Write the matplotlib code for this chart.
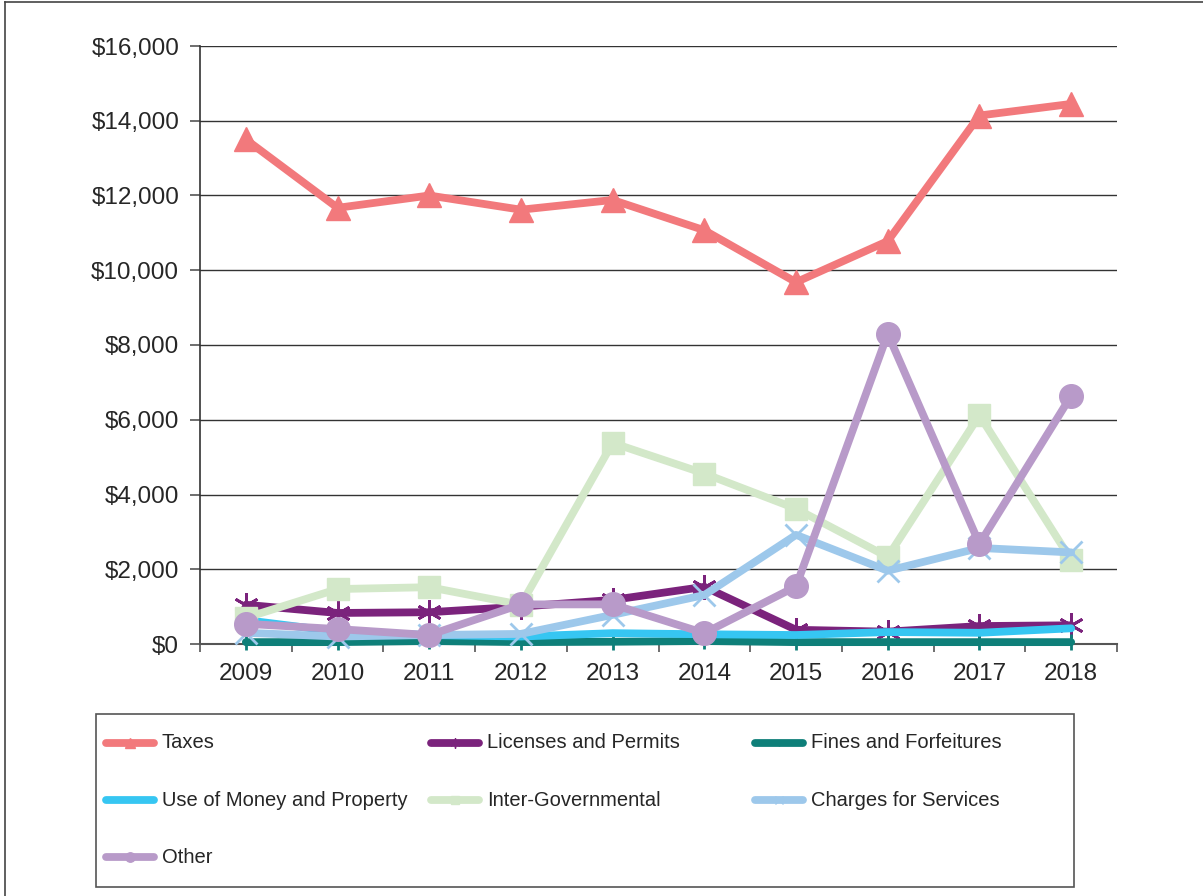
import matplotlib
matplotlib.use("Agg")
import matplotlib.pyplot as plt
from matplotlib.lines import Line2D
from matplotlib.patches import Rectangle
from matplotlib.ticker import FuncFormatter, FixedLocator

plt.rcParams['font.family'] = ['Liberation Sans', 'DejaVu Sans']

years = ['2009', '2010', '2011', '2012', '2013', '2014', '2015', '2016', '2017', '2018']

taxes = [13500, 11670, 12000, 11620, 11880, 11070, 9680, 10780, 14140, 14450]
licenses = [1050, 830, 850, 1000, 1180, 1530, 380, 330, 480, 500]
fines = [50, 50, 80, 50, 60, 80, 50, 50, 50, 50]
use_of_money = [640, 330, 240, 200, 290, 260, 240, 320, 300, 420]
inter_gov = [700, 1470, 1520, 1050, 5380, 4560, 3620, 2330, 6120, 2250]
charges = [300, 200, 240, 270, 780, 1310, 2920, 1960, 2570, 2450]
other = [540, 400, 240, 1060, 1060, 290, 1540, 8300, 2680, 6640]

series = [
    ("Taxes", taxes, "#F2797C", "^", 17, {}),
    ("Licenses and Permits", licenses, "#7B237C", (6, 2, 0), 18, {"markeredgewidth": 2}),
    ("Fines and Forfeitures", fines, "#0E7F79", "|", 12, {"markeredgewidth": 2}),
    ("Use of Money and Property", use_of_money, "#36C6F2", None, 0, {}),
    ("Inter-Governmental", inter_gov, "#D3E8C9", "s", 16, {}),
    ("Charges for Services", charges, "#9DC8EB", "x", 16, {"markeredgewidth": 2}),
    ("Other", other, "#B89AC9", "o", 17, {}),
]

W, H = 1203, 896
fig = plt.figure(figsize=(W / 100, H / 100), dpi=100)
ax = fig.add_axes([200 / W, 1 - 644 / H, 917 / W, 598 / H])

x = list(range(len(years)))
for i, (name, vals, color, marker, ms, extra) in enumerate(series):
    ax.plot(x, vals, color=color, lw=5.6, marker=marker, markersize=ms,
            markerfacecolor=color, markeredgecolor=color,
            solid_capstyle='round', solid_joinstyle='round',
            zorder=3 + i, clip_on=False, **extra)

ax.set_xlim(-0.5, len(years) - 0.5)
ax.set_ylim(0, 16000)
ax.set_yticks(range(0, 16001, 2000))
ax.yaxis.set_major_formatter(FuncFormatter(lambda v, p: f"${v:,.0f}"))
ax.set_xticks(x)
ax.set_xticklabels(years)
ax.xaxis.set_minor_locator(FixedLocator([i - 0.5 for i in range(len(years) + 1)]))
ax.tick_params(axis='x', which='major', length=0, pad=14, labelsize=17.5, colors='#262626')
ax.tick_params(axis='x', which='minor', length=6, width=1.2, color='#555555')
ax.tick_params(axis='y', which='major', length=7, width=1.2, color='#555555', pad=8,
               labelsize=17.5, labelcolor='#262626')
ax.grid(axis='y', color='#333333', lw=1.0, zorder=1)
ax.set_axisbelow(True)
for s in ['top', 'right']:
    ax.spines[s].set_visible(False)
ax.spines['left'].set_color('#333333')
ax.spines['left'].set_linewidth(1.2)
ax.spines['bottom'].set_color('#555555')
ax.spines['bottom'].set_linewidth(1.5)

# legend box laid out in three equal columns, filled row by row
fig.add_artist(Rectangle((96 / W, 1 - 887 / H), 978 / W, 173 / H, transform=fig.transFigure,
                         facecolor='white', edgecolor='#555555', lw=1.2))
col_x = [103, 428, 752]
row_y = [743, 800, 857]
for i, (name, vals, color, marker, ms, extra) in enumerate(series):
    r, c = divmod(i, 3)
    x0, y0 = col_x[c], row_y[r]
    yy = 1 - y0 / H
    fig.add_artist(Line2D([(x0 + 3) / W, (x0 + 51) / W], [yy, yy], transform=fig.transFigure,
                          color=color, lw=5.6, solid_capstyle='round'))
    if marker is not None:
        fig.add_artist(Line2D([(x0 + 27) / W], [yy], transform=fig.transFigure, color=color,
                              marker=marker, markersize=ms * 0.4, markerfacecolor=color,
                              markeredgecolor=color, markeredgewidth=1, linestyle='none'))
    fig.text((x0 + 59) / W, yy, name, fontsize=14.5, color='#262626', va='center', ha='left')

# outer frame of the figure
fig.add_artist(Line2D([5 / W, 5 / W], [0, 1 - 2 / H], transform=fig.transFigure,
                      color='#444444', lw=1.2))
fig.add_artist(Line2D([5 / W, 1], [1 - 2 / H, 1 - 2 / H], transform=fig.transFigure,
                      color='#444444', lw=1.2))

fig.savefig("out.png", dpi=100)
